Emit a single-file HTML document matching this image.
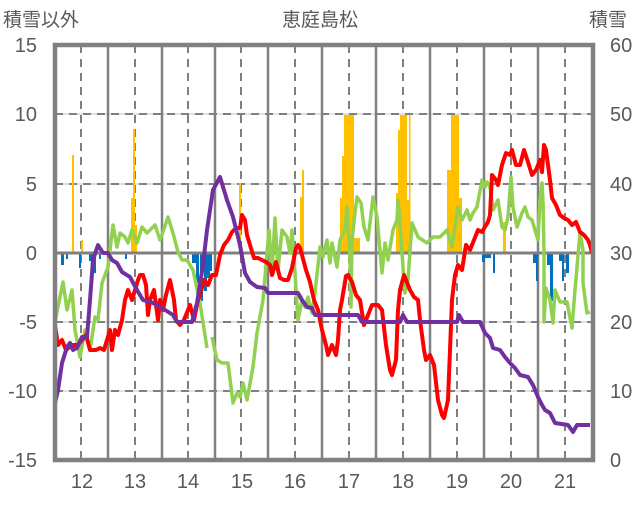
<!DOCTYPE html>
<html><head><meta charset="utf-8"><style>
body{margin:0;background:#fff}
text{font-family:"Liberation Sans","Noto Sans CJK JP",sans-serif;fill:#595959}
</style></head><body>
<svg width="636" height="501" viewBox="0 0 636 501" xmlns="http://www.w3.org/2000/svg">
<g stroke="#d9d9d9" stroke-width="1.5">
<line x1="55" y1="114" x2="593" y2="114"/><line x1="55" y1="184" x2="593" y2="184"/><line x1="55" y1="322" x2="593" y2="322"/><line x1="55" y1="391" x2="593" y2="391"/>
</g>
<g stroke="#808080" stroke-width="2" stroke-dasharray="8,6">
<line x1="55" y1="114" x2="593" y2="114"/><line x1="55" y1="184" x2="593" y2="184"/><line x1="55" y1="322" x2="593" y2="322"/><line x1="55" y1="391" x2="593" y2="391"/>
<line x1="81" y1="45" x2="81" y2="460"/><line x1="135" y1="45" x2="135" y2="460"/><line x1="188" y1="45" x2="188" y2="460"/><line x1="241" y1="45" x2="241" y2="460"/><line x1="295" y1="45" x2="295" y2="460"/><line x1="349" y1="45" x2="349" y2="460"/><line x1="403" y1="45" x2="403" y2="460"/><line x1="457" y1="45" x2="457" y2="460"/><line x1="511" y1="45" x2="511" y2="460"/><line x1="565" y1="45" x2="565" y2="460"/>
</g>
<g stroke="#808080" stroke-width="2.5">
<line x1="108" y1="45" x2="108" y2="460"/><line x1="162" y1="45" x2="162" y2="460"/><line x1="215" y1="45" x2="215" y2="460"/><line x1="268" y1="45" x2="268" y2="460"/><line x1="322" y1="45" x2="322" y2="460"/><line x1="376" y1="45" x2="376" y2="460"/><line x1="430" y1="45" x2="430" y2="460"/><line x1="484" y1="45" x2="484" y2="460"/><line x1="538" y1="45" x2="538" y2="460"/>
</g>
<g fill="#ffc000">
<rect x="72" y="155" width="2" height="98"/><rect x="81" y="240" width="2" height="13"/>
<rect x="131" y="198" width="2" height="55"/><rect x="133" y="129" width="2" height="124"/><rect x="135" y="225" width="2" height="28"/>
<rect x="239" y="183" width="2" height="70"/>
<rect x="300" y="197" width="2" height="56"/><rect x="302" y="170" width="2" height="83"/>
<rect x="340" y="198" width="2" height="55"/><rect x="342" y="156" width="2" height="97"/><rect x="344" y="115" width="10" height="138"/><rect x="354" y="238" width="6" height="15"/>
<rect x="396" y="193" width="2" height="60"/><rect x="398" y="130" width="2" height="123"/><rect x="400" y="115" width="7" height="138"/><rect x="407" y="200" width="2" height="53"/><rect x="409" y="115" width="1.5" height="138"/>
<rect x="447" y="170" width="4" height="83"/><rect x="451" y="115" width="8" height="138"/><rect x="459" y="198" width="3" height="55"/>
<rect x="503" y="222" width="3" height="31"/>
</g>
<g fill="#0070c0">
<rect x="61" y="253" width="3" height="12"/><rect x="66" y="253" width="2" height="6"/><rect x="79" y="253" width="2" height="15"/><rect x="89" y="253" width="6" height="8"/><rect x="93" y="253" width="3" height="20"/><rect x="99" y="253" width="2" height="6"/>
<rect x="192" y="253" width="6" height="10"/><rect x="196" y="253" width="3" height="30"/><rect x="200" y="253" width="3" height="48"/><rect x="204" y="253" width="3" height="38"/><rect x="207" y="253" width="3" height="25"/><rect x="210" y="253" width="2" height="18"/><rect x="125" y="253" width="2" height="6"/>
<rect x="482" y="253" width="3" height="9"/><rect x="485" y="253" width="6" height="5"/><rect x="493" y="253" width="2" height="20"/>
<rect x="533" y="253" width="3" height="10"/><rect x="536" y="253" width="2" height="28"/><rect x="547" y="253" width="5" height="12"/><rect x="550" y="253" width="3" height="48"/><rect x="559" y="253" width="5" height="8"/><rect x="562" y="253" width="2" height="28"/><rect x="566" y="253" width="3" height="20"/>
</g>
<line x1="55" y1="253" x2="593" y2="253" stroke="#808080" stroke-width="3"/>
<polyline fill="none" stroke="#92d050" stroke-width="3.5" stroke-linejoin="round" points="55,322 63,282 67,310 72,290 75,330 80,357 85,330 90,350 95,317 98,320 102,283 108,267 113,225 117,247 120,233 125,237 128,243 132,230 137,243 142,227 147,233 155,225 160,240 163,232 168,217 173,233 178,252 182,260 187,260 193,270 200,303 207,348"/>
<polyline fill="none" stroke="#92d050" stroke-width="3.5" stroke-linejoin="round" points="212,337 217,360 222,363 228,363 233,403 237,393 240,397 243,383 247,400 253,367 257,333 263,300 269,230 272,273 275,218 278,270 282,230 287,237 290,253 292,230 295,273 298,320 302,300 305,307 308,297 312,313 315,293 320,247 323,257 327,240 330,263 332,243 337,267 340,240 345,230 347,207 350,260 351,307 352,240 355,213 357,197 361,203 364,227 368,240 373,197 377,217 382,273 385,243 388,260 393,230 397,220 398,200 400,223 403,267 405,293 408,280 412,223 418,237 427,243 433,237 440,237 447,230 452,247 458,207 462,220 467,210 470,220 473,213 477,207 482,180 485,187 487,182 490,187 493,210 498,200 502,227 505,230 508,217 511,177 513,207 517,227 522,213 525,207 528,217 532,220 535,230 538,240 540,200 542,183 543,203 544,253 544,322 546,288 550,300 553,323 555,290 560,302 567,302 572,328 575,290 580,233 583,250 583,283 587,313 590,312"/>
<polyline fill="none" stroke="#ff0000" stroke-width="4" stroke-linejoin="round" points="55,325 58,345 62,340 66,350 72,345 78,345 82,340 86,335 90,350 96,350 100,348 104,350 110,330 112,350 115,330 118,335 122,320 125,300 128,290 132,300 135,290 138,280 140,275 143,275 146,285 148,315 150,300 154,290 158,320 160,300 163,310 166,295 170,280 174,300 176,320 180,325 184,320 188,310 190,305 194,320 198,300 200,295 204,280 208,285 212,275 216,275 220,255 224,245 228,240 232,232 236,228 240,228 242,215 245,220 247,235 250,245 254,258 258,258 262,260 266,262 270,265 272,275 276,262 280,278 284,280 288,280 292,268 296,248 298,245 300,248 302,255 306,270 310,282 314,300 318,310 322,330 326,345 328,355 332,345 336,355 338,340 340,310 342,300 346,276 348,275 352,282 356,295 360,300 364,325 366,320 372,305 378,305 382,310 386,345 390,370 392,375 396,360 398,310 400,290 404,275 406,280 410,290 414,297 418,300 420,320 424,350 426,360 430,355 434,365 438,400 442,415 444,418 448,400 450,350 452,300 455,275 458,265 462,270 466,245 470,250 474,240 478,230 482,232 486,225 488,222 490,215 492,175 496,180 498,185 502,165 506,153 510,155 512,150 516,165 520,165 524,150 528,162 532,175 536,170 540,160 542,172 544,145 546,150 550,180 552,198 556,205 560,215 564,218 568,220 572,225 576,222 580,232 584,235 588,240 590,245 592,253"/>
<polyline fill="none" stroke="#7030a0" stroke-width="4" stroke-linejoin="round" points="55,403 58,390 62,363 67,347 70,343 73,350 77,348 82,337 87,337 90,300 93,260 98,245 103,253 108,253 112,260 117,263 122,272 130,277 137,290 143,300 153,303 162,308 173,315 177,322 192,322 197,303 203,265 207,230 213,190 220,177 227,200 233,217 240,245 245,273 250,282 257,287 265,288 268,293 298,293 302,300 307,307 312,308 315,315 358,315 362,322 400,322 403,315 407,322 457,322 459,315 463,322 480,322 485,333 490,338 493,348 500,350 505,357 510,363 515,368 520,375 528,377 533,385 538,397 542,405 545,410 550,413 555,423 568,425 573,432 577,425 590,425"/>
<rect x="55" y="45" width="538" height="415" fill="none" stroke="#808080" stroke-width="4.5"/>
<g font-size="20" text-anchor="end">
<text x="37" y="52">15</text><text x="37" y="121">10</text><text x="37" y="191">5</text><text x="37" y="260">0</text><text x="37" y="329">-5</text><text x="37" y="398">-10</text><text x="37" y="467">-15</text>
</g>
<g font-size="20" text-anchor="start">
<text x="610" y="52">60</text><text x="610" y="121">50</text><text x="610" y="191">40</text><text x="610" y="260">30</text><text x="610" y="329">20</text><text x="610" y="398">10</text><text x="610" y="467">0</text>
</g>
<g font-size="20" text-anchor="middle">
<text x="82" y="488">12</text><text x="135" y="488">13</text><text x="188" y="488">14</text><text x="242" y="488">15</text><text x="295" y="488">16</text><text x="349" y="488">17</text><text x="403" y="488">18</text><text x="457" y="488">19</text><text x="511" y="488">20</text><text x="565" y="488">21</text>
</g>
<text x="3" y="26" font-size="19">積雪以外</text>
<text x="320" y="26" font-size="19" text-anchor="middle">恵庭島松</text>
<text x="589" y="26" font-size="19">積雪</text>
</svg>
</body></html>
